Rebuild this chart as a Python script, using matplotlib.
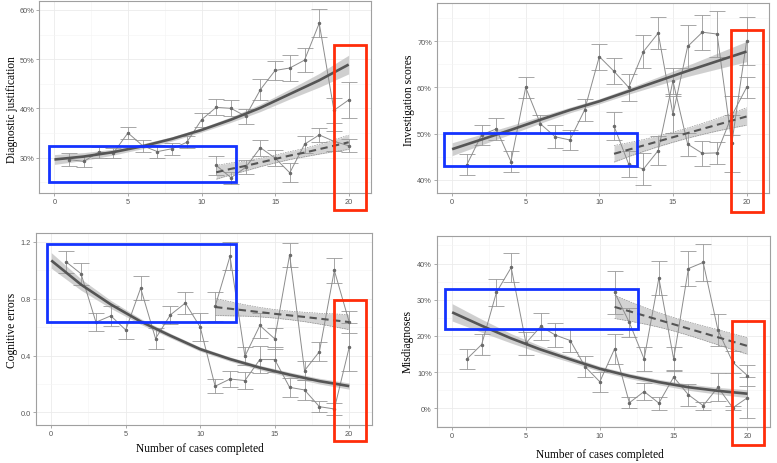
import matplotlib
matplotlib.use("Agg")
import matplotlib.pyplot as plt
import numpy as np
from matplotlib.patches import Rectangle
from matplotlib.ticker import FixedLocator, FormatStrFormatter, PercentFormatter

# x positions
cases = list(range(1, 21))
cases_late = list(range(11, 21))
fit_x = list(range(0, 21, 2))
fit_late_x = list(range(11, 21))

# Diagnostic justification (%)
dj_main = [29.6, 29.2, 31.1, 30.9, 35.0, 32.4, 31.2, 31.8, 33.1, 37.7,
           40.2, 40.0, 38.4, 43.8, 47.7, 48.2, 49.8, 57.3, 39.6, 41.7]
dj_main_err = [1.25, 1.1, 1.1, 1.05, 1.25, 1.2, 1.3, 1.2, 1.25, 1.45,
               1.6, 1.6, 1.5, 2.1, 2.0, 2.7, 2.5, 2.8, 2.6, 3.6]
dj_late = [28.4, 25.9, 28.0, 32.0, 29.9, 26.9, 32.7, 34.6, 33.3, 32.4]
dj_late_err = [2.0, 1.2, 1.4, 1.6, 1.7, 1.9, 1.7, 1.5, 2.0, 1.3]
dj_fit = [29.6, 30.2, 31.1, 32.3, 33.8, 35.6, 37.7, 40.1, 42.9, 45.7, 48.9]
dj_fit_se = [1.0, 0.8, 0.6, 0.5, 0.45, 0.45, 0.55, 0.75, 1.0, 1.4, 1.9]
dj_late_fit = [27.0, 27.7, 28.3, 29.0, 29.7, 30.4, 31.0, 31.7, 32.4, 33.1]
dj_late_se = [1.4, 1.2, 1.0, 0.85, 0.8, 0.8, 0.85, 1.0, 1.2, 1.45]

# Investigation scores (%)
is_main = [43.2, 49.7, 51.0, 43.9, 60.0, 52.1, 49.3, 48.6, 55.1, 66.7,
           63.5, 60.0, 67.8, 71.8, 54.2, 68.9, 72.0, 71.6, 47.9, 70.0]
is_main_err = [2.3, 2.2, 2.3, 2.3, 2.3, 1.9, 2.5, 2.2, 2.35, 2.8,
               2.8, 2.9, 3.5, 3.5, 4.0, 4.7, 3.8, 5.0, 6.2, 5.2]
is_late = [51.6, 43.3, 42.3, 46.3, 61.4, 47.7, 45.7, 45.8, 53.9, 60.0]
is_late_err = [3.0, 2.8, 3.4, 3.1, 2.8, 2.5, 2.7, 2.4, 4.3, 2.35]
is_fit = [46.6, 48.7, 50.8, 53.0, 55.1, 57.0, 59.2, 61.4, 63.6, 65.7, 67.8]
is_fit_se = [1.4, 1.15, 0.95, 0.75, 0.6, 0.55, 0.65, 0.9, 1.2, 1.7, 2.2]
is_late_fit = [45.6, 46.5, 47.4, 48.3, 49.2, 50.1, 51.0, 51.9, 52.8, 53.7]
is_late_se = [1.8, 1.5, 1.3, 1.15, 1.1, 1.1, 1.2, 1.35, 1.6, 1.9]

# Cognitive errors
ce_main = [1.06, 0.976, 0.635, 0.68, 0.58, 0.875, 0.52, 0.687, 0.77, 0.60,
           0.184, 0.235, 0.224, 0.372, 0.372, 0.176, 0.158, 0.04, 0.024, 0.459]
ce_main_err = [0.078, 0.079, 0.062, 0.07, 0.065, 0.084, 0.073, 0.065, 0.079, 0.10,
               0.05, 0.056, 0.061, 0.094, 0.09, 0.068, 0.07, 0.038, 0.045, 0.17]
ce_late = [0.746, 1.10, 0.395, 0.612, 0.518, 1.11, 0.294, 0.428, 1.0, 0.635]
ce_late_err = [0.10, 0.10, 0.062, 0.086, 0.075, 0.084, 0.068, 0.068, 0.09, 0.076]
ce_fit = [1.07, 0.90, 0.76, 0.64, 0.54, 0.445, 0.375, 0.315, 0.265, 0.22, 0.185]
ce_fit_se = [0.055, 0.04, 0.028, 0.02, 0.016, 0.015, 0.015, 0.016, 0.018, 0.02, 0.022]
ce_late_fit = [0.742, 0.73, 0.718, 0.706, 0.694, 0.683, 0.672, 0.66, 0.648, 0.636]
ce_late_se = [0.06, 0.05, 0.04, 0.033, 0.03, 0.03, 0.033, 0.038, 0.045, 0.053]

# Misdiagnoses (%)
md_main = [13.6, 17.6, 32.0, 38.9, 18.0, 22.6, 20.2, 18.7, 11.5, 7.3,
           16.4, 1.5, 4.6, 1.4, 8.6, 3.7, 0.7, 5.8, 0.1, 2.9]
md_main_err = [2.7, 3.0, 3.7, 4.0, 3.2, 3.8, 3.4, 3.2, 2.85, 2.75,
               4.2, 1.5, 2.3, 1.8, 2.0, 3.1, 1.1, 3.9, 0.5, 5.7]
md_late = [32.0, 23.7, 13.6, 36.0, 13.6, 38.6, 40.3, 21.6, 12.7, 9.0]
md_late_err = [5.9, 4.1, 3.3, 4.6, 3.3, 4.8, 5.1, 4.4, 3.0, 3.0]
md_fit = [26.5, 22.8, 19.3, 16.2, 13.5, 10.9, 8.9, 7.2, 5.8, 4.8, 4.0]
md_fit_se = [2.4, 1.8, 1.3, 1.0, 0.8, 0.7, 0.7, 0.75, 0.85, 0.95, 1.1]
md_late_fit = [28.0, 26.8, 25.6, 24.4, 23.2, 22.0, 20.8, 19.6, 18.4, 17.2]
md_late_se = [3.2, 2.7, 2.3, 2.0, 1.85, 1.85, 1.95, 2.1, 2.2, 2.3]

SERIF = ["Liberation Serif", "DejaVu Serif"]
SANS = ["Liberation Sans", "DejaVu Sans"]
BLUE = "#1433ff"
RED = "#ff2d0a"


def draw_panel(ax, main, main_err, late, late_err, fit, fit_se, late_fit, late_se,
               ylabel, ylim, yticks, percent, blue_box, red_box, label_pos, xlabel_pos=None):
    fit = np.array(fit)
    fit_se = np.array(fit_se)
    late_fit = np.array(late_fit)
    late_se = np.array(late_se)

    # smooth ribbons
    ax.fill_between(fit_x, fit - fit_se, fit + fit_se, color="#c4c4c4", alpha=0.8, lw=0, zorder=1)
    ax.fill_between(fit_late_x, late_fit - late_se, late_fit + late_se, color="#c8c8c8",
                    alpha=0.8, lw=0, zorder=1)
    for edge in (late_fit - late_se, late_fit + late_se):
        ax.plot(fit_late_x, edge, color="#8a8a8a", lw=0.45, ls=(0, (2.5, 1.5)), zorder=2)

    # raw means with error bars
    for xs, ys, es in ((cases, main, main_err), (cases_late, late, late_err)):
        ax.errorbar(xs, ys, yerr=es, fmt="-o", color="#8c8c8c", ecolor="#999999",
                    elinewidth=0.6, lw=0.7, capsize=5.6, capthick=0.6,
                    ms=1.5, mfc="#6a6a6a", mec="#6a6a6a", zorder=3)

    # fitted curves
    ax.plot(fit_x, fit, color="#555555", lw=1.9, solid_capstyle="butt", zorder=4)
    ax.plot(fit_late_x, late_fit, color="#555555", lw=1.5, ls=(0, (3.5, 2.2)), zorder=4)

    ax.set_xlim(-1.025, 21.525)
    ax.set_ylim(*ylim)
    ax.xaxis.set_major_locator(FixedLocator([0, 5, 10, 15, 20]))
    ax.xaxis.set_minor_locator(FixedLocator([2.5, 7.5, 12.5, 17.5]))
    ax.yaxis.set_major_locator(FixedLocator(yticks))
    step = yticks[1] - yticks[0]
    ax.yaxis.set_minor_locator(FixedLocator([t + step / 2 for t in [yticks[0] - step] + yticks]))
    if percent:
        ax.yaxis.set_major_formatter(PercentFormatter(decimals=0))
    else:
        ax.yaxis.set_major_formatter(FormatStrFormatter("%.1f"))
    ax.grid(which="major", color="#ebebeb", lw=0.6)
    ax.grid(which="minor", color="#f4f4f4", lw=0.4)
    ax.set_axisbelow(True)
    ax.tick_params(which="major", length=2.2, width=0.5, color="#888888",
                   labelsize=5.3, labelcolor="#555555", pad=1.5)
    ax.tick_params(which="minor", length=0)
    for lab in ax.get_xticklabels() + ax.get_yticklabels():
        lab.set_family(SANS)
    for sp in ax.spines.values():
        sp.set_color("#a0a0a0")
        sp.set_linewidth(0.8)

    ax.set_ylabel(ylabel, family=SERIF, fontsize=8.3, va="center")
    ax.yaxis.set_label_coords(*label_pos)
    if xlabel_pos is not None:
        ax.set_xlabel("Number of cases completed", family=SERIF, fontsize=8.3, va="center")
        ax.xaxis.set_label_coords(*xlabel_pos)

    # highlight boxes
    for (x0, x1, y0, y1), col in ((blue_box, BLUE), (red_box, RED)):
        ax.add_patch(Rectangle((x0, y0), x1 - x0, y1 - y0, fill=False, ec=col, lw=2.0,
                               clip_on=False, zorder=6))


fig = plt.figure(figsize=(7.77, 4.64), dpi=100)
ax1 = fig.add_axes([0.0506, 0.582, 0.427, 0.414])
ax2 = fig.add_axes([0.5624, 0.582, 0.4273, 0.409])
ax3 = fig.add_axes([0.0463, 0.0819, 0.4324, 0.414])
ax4 = fig.add_axes([0.5624, 0.0776, 0.4286, 0.4116])

draw_panel(ax1, dj_main, dj_main_err, dj_late, dj_late_err, dj_fit, dj_fit_se,
           dj_late_fit, dj_late_se, "Diagnostic justification", (22.8, 61.85),
           [30, 40, 50, 60], True, (-0.38, 12.34, 25.12, 32.44), (18.99, 21.18, 19.37, 52.97),
           (-0.083, 0.4375))
draw_panel(ax2, is_main, is_main_err, is_late, is_late_err, is_fit, is_fit_se,
           is_late_fit, is_late_se, "Investigation scores", (37.1, 78.3),
           [40, 50, 60, 70], True, (-0.54, 12.59, 43.04, 50.05), (18.96, 21.12, 32.9, 72.5),
           (-0.085, 0.495))
draw_panel(ax3, ce_main, ce_main_err, ce_late, ce_late_err, ce_fit, ce_fit_se,
           ce_late_fit, ce_late_se, "Cognitive errors", (-0.089, 1.264),
           [0.0, 0.4, 0.8, 1.2], False, (-0.27, 12.38, 0.635, 1.184), (18.95, 21.11, -0.205, 0.79),
           (-0.072, 0.496), (0.488, -0.12))
draw_panel(ax4, md_main, md_main_err, md_late, md_late_err, md_fit, md_fit_se,
           md_late_fit, md_late_se, "Misdiagnoses", (-5.2, 47.6),
           [0, 10, 20, 30, 40], True, (-0.5, 12.6, 21.9, 32.9), (18.96, 21.13, -10.3, 24.2),
           (-0.088, 0.452), (0.488, -0.139))

fig.savefig("out.png", dpi=100)
